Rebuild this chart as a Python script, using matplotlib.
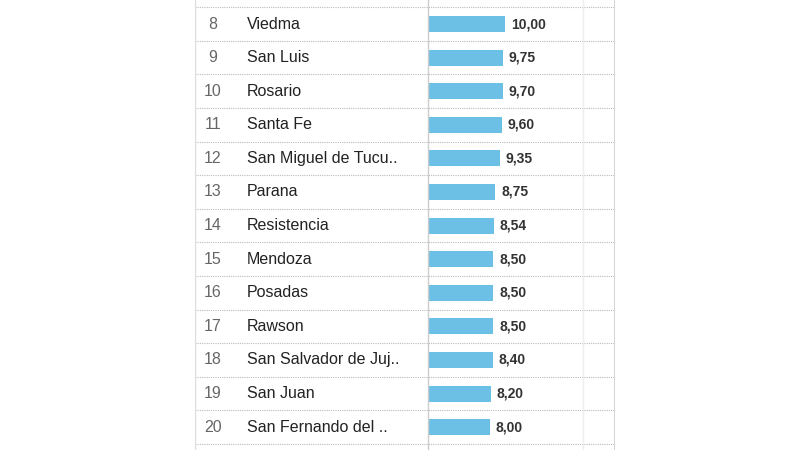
import matplotlib
matplotlib.use("Agg")
import matplotlib.pyplot as plt

plt.rcParams['font.family'] = ['Liberation Sans', 'DejaVu Sans']

ranks = [7, 8, 9, 10, 11, 12, 13, 14, 15, 16, 17, 18, 19, 20]
cities = ["", "Viedma", "San Luis", "Rosario", "Santa Fe", "San Miguel de Tucu..",
          "Parana", "Resistencia", "Mendoza", "Posadas", "Rawson",
          "San Salvador de Juj..", "San Juan", "San Fernando del .."]
values = [11.0, 10.00, 9.75, 9.70, 9.60, 9.35, 8.75, 8.54, 8.50, 8.50, 8.50, 8.40, 8.20, 8.00]
labels = ["11,00", "10,00", "9,75", "9,70", "9,60", "9,35", "8,75", "8,54", "8,50", "8,50", "8,50", "8,40", "8,20", "8,00"]

fig = plt.figure(figsize=(8, 4.5), dpi=100)
ax = fig.add_axes([195/800, 0, (615-195)/800, 1])
xmin, xmax = -233/7.7, 187/7.7
ax.set_xlim(xmin, xmax)
ax.set_ylim(8 + 426/33.6, 8 - 24/33.6)
ax.axis("off")

ax.barh(ranks, values, height=0.48, color="#6cc0e5", zorder=2)
for r, c, v, l in zip(ranks, cities, values, labels):
    if r == 7:
        continue
    ax.text((213-428)/7.7, r, str(r), ha="center", va="center", fontsize=11.5, color="#666666")
    ax.text((247-428)/7.7, r, c, ha="left", va="center", fontsize=11.5, color="#222222")
    ax.text(v + 0.75, r, l, ha="left", va="center", fontsize=10, fontweight="bold", color="#333333")
for r in ranks:
    ax.plot([xmin, xmax], [r + 0.5, r + 0.5], color="#bbbbbb", lw=0.8, ls=(0, (1, 1)), zorder=1)
ax.axvline(0, color="#cccccc", lw=1, zorder=3)
ax.axvline(155/7.7, color="#eeeeee", lw=1, zorder=1)
ax.axvline(xmax - 0.05, color="#cccccc", lw=1.2)
ax.axvline(xmin + 0.05, color="#dddddd", lw=1)
fig.savefig("out.png", dpi=100)
